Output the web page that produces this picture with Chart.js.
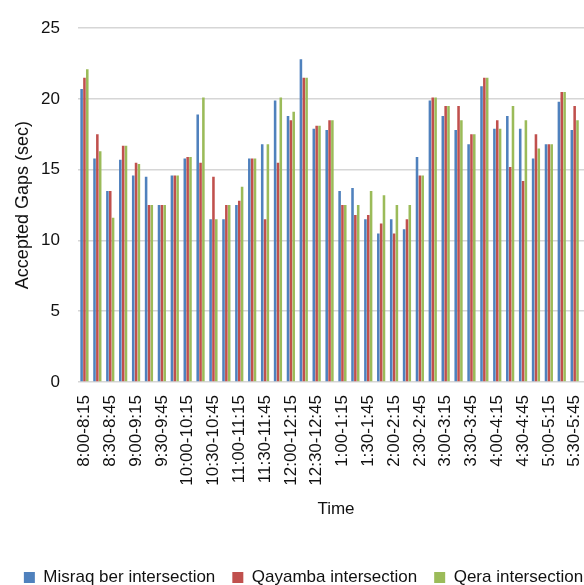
<!DOCTYPE html>
<html>
<head>
<meta charset="utf-8">
<script src="https://cdn.jsdelivr.net/npm/chart.js@4/dist/chart.umd.min.js"></script>
<style>
  html, body { margin: 0; padding: 0; overflow: hidden; background: #fff; }
  #wrap { width: 584px; height: 585px; overflow: hidden; }
  canvas { display: block; }
</style>
</head>
<body>
<div id="wrap"><canvas id="gaps" width="607" height="596"></canvas></div>
<script>
// 15-minute survey intervals, 8:00 am to 6:00 pm
const timeLabels = [
  "8:00-8:15", "8:15-8:30", "8:30-8:45", "8:45-9:00",
  "9:00-9:15", "9:15-9:30", "9:30-9:45", "9:45-10:00",
  "10:00-10:15", "10:15-10:30", "10:30-10:45", "10:45-11:00",
  "11:00-11:15", "11:15-11:30", "11:30-11:45", "11:45-12:00",
  "12:00-12:15", "12:15-12:30", "12:30-12:45", "12:45-1:00",
  "1:00-1:15", "1:15-1:30", "1:30-1:45", "1:45-2:00",
  "2:00-2:15", "2:15-2:30", "2:30-2:45", "2:45-3:00",
  "3:00-3:15", "3:15-3:30", "3:30-3:45", "3:45-4:00",
  "4:00-4:15", "4:15-4:30", "4:30-4:45", "4:45-5:00",
  "5:00-5:15", "5:15-5:30", "5:30-5:45", "5:45-6:00"
];

// Accepted gaps (sec) per interval at each intersection
const misraqBer = [
  20.7, 15.8, 13.5, 15.7, 14.6, 14.5, 12.5, 14.6, 15.8, 18.9,
  11.5, 11.5, 12.5, 15.8, 16.8, 19.9, 18.8, 22.8, 17.9, 17.8,
  13.5, 13.7, 11.5, 10.5, 11.5, 10.8, 15.9, 19.9, 18.8, 17.8,
  16.8, 20.9, 17.9, 18.8, 17.9, 15.8, 16.8, 19.8, 17.8, null
];
const qayamba = [
  21.5, 17.5, 13.5, 16.7, 15.5, 12.5, 12.5, 14.6, 15.9, 15.5,
  14.5, 12.5, 12.8, 15.8, 11.5, 15.5, 18.5, 21.5, 18.1, 18.5,
  12.5, 11.8, 11.8, 11.2, 10.5, 11.5, 14.6, 20.1, 19.5, 19.5,
  17.5, 21.5, 18.5, 15.2, 14.2, 17.5, 16.8, 20.5, 19.5, null
];
const qera = [
  22.1, 16.3, 11.6, 16.7, 15.4, 12.5, 12.5, 14.6, 15.9, 20.1,
  11.5, 12.5, 13.8, 15.8, 16.8, 20.1, 19.1, 21.5, 18.1, 18.5,
  12.5, 12.5, 13.5, 13.2, 12.5, 12.5, 14.6, 20.1, 19.5, 18.5,
  17.5, 21.5, 17.9, 19.5, 18.5, 16.5, 16.8, 20.5, 18.5, null
];

const seriesNames = ["Misraq ber intersection", "Qayamba intersection", "Qera intersection"];
const seriesColors = ["#4f81bd", "#c0504d", "#9bbb59"];

const FONT = "'Liberation Sans', Arial, sans-serif";
const TEXT = "#111111";
const GRID = "#d6d6d6";

const series = [misraqBer, qayamba, qera];

new Chart(document.getElementById("gaps"), {
  type: "bar",
  data: {
    labels: timeLabels,
    datasets: series.map((values, i) => ({
      label: seriesNames[i],
      data: values,
      backgroundColor: seriesColors[i],
      borderWidth: 0,
      categoryPercentage: 0.66,
      barPercentage: 0.9
    }))
  },
  options: {
    responsive: false,
    animation: false,
    devicePixelRatio: 1,
    layout: { padding: { top: 18, right: 0, left: 0, bottom: 0 } },
    plugins: {
      tooltip: { enabled: false },
      legend: {
        position: "bottom",
        labels: {
          font: { family: FONT, size: 17 },
          color: TEXT,
          boxWidth: 11,
          boxHeight: 11,
          padding: 17
        }
      }
    },
    scales: {
      x: {
        grid: { display: false, drawTicks: false },
        border: { display: false },
        ticks: {
          autoSkip: false,
          minRotation: 90,
          maxRotation: 90,
          padding: 13,
          color: TEXT,
          font: { family: FONT, size: 17 },
          callback: function (value, index) {
            return index % 2 === 0 ? this.getLabelForValue(value) : "";
          }
        },
        title: {
          display: true,
          text: "Time",
          color: TEXT,
          font: { family: FONT, size: 17 },
          padding: { top: 32, bottom: 32 }
        },
        afterFit: (scale) => {
          // keep the plot's right edge fixed while the legend spans the full width
          scale.height = 170;
          scale.paddingLeft = 0;
          scale.paddingRight = 13;
        }
      },
      y: {
        min: 0,
        max: 25,
        ticks: {
          stepSize: 5,
          padding: 18,
          color: TEXT,
          font: { family: FONT, size: 17 }
        },
        grid: { color: GRID, lineWidth: 1.6, drawTicks: false },
        border: { display: false },
        title: {
          display: true,
          text: "Accepted Gaps (sec)",
          color: TEXT,
          font: { family: FONT, size: 18 },
          padding: { top: 12, bottom: 12 }
        },
        afterFit: (scale) => { scale.width = 78; }
      }
    }
  }
});
</script>
</body>
</html>
